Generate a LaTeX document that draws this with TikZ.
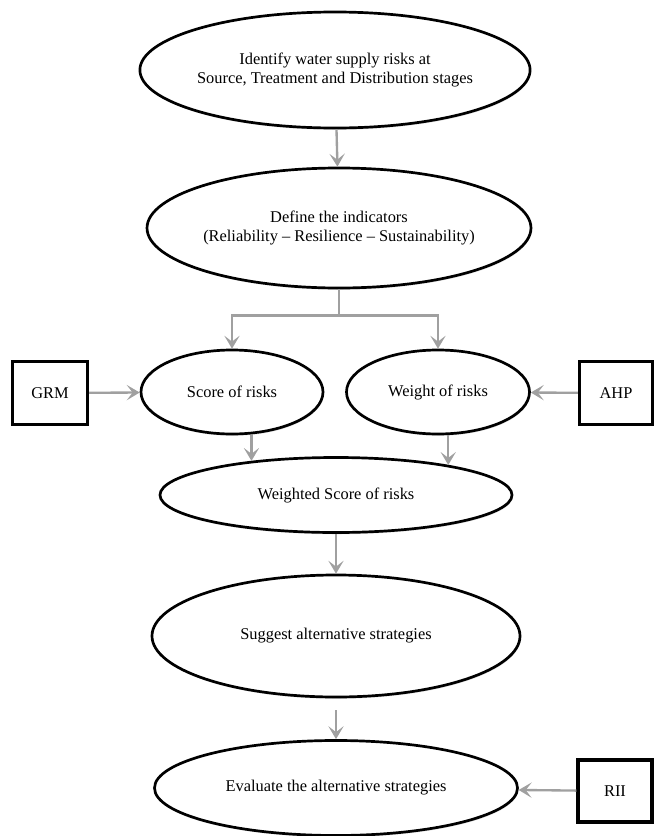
\documentclass[tikz,border=0pt]{standalone}
\usepackage{fontspec}
\setmainfont{Liberation Serif}
\usepackage{xcolor}
\usepackage{tikz}
\usetikzlibrary{shapes.geometric,arrows.meta,shadows}

\definecolor{arrowgray}{RGB}{160,160,160}

\begin{document}
\begin{tikzpicture}[x=0.03cm, y=-0.03cm,
        every node/.style={font=\fontsize{14}{17}\selectfont, align=center},
        oval/.style={ellipse, draw=black, line width=2.3pt, fill=white, inner sep=0pt,
            drop shadow={opacity=0.25, shadow xshift=0.6pt, shadow yshift=-1.5pt}},
        tool/.style={rectangle, draw=black, line width=2.7pt, fill=white, inner sep=0pt},
        flow/.style={draw=arrowgray, line width=2pt, -{Stealth[length=11pt, width=13pt, inset=5pt]}}]
            \useasboundingbox (0,0) rectangle (655,836);

            % Main chain
            \node[oval, minimum width=10.92cm, minimum height=3.48cm] (identify) at (335,70)
                {Identify water supply risks at\\Source, Treatment and Distribution stages};
            \node[oval, minimum width=10.86cm, minimum height=3.6cm] (define) at (339,228)
                {Define the indicators\\(Reliability -- Resilience -- Sustainability)};
            \node[oval, minimum width=5.46cm, minimum height=2.52cm] (score) at (232,392) {Score of risks};
            \node[oval, minimum width=5.49cm, minimum height=2.52cm] (weight) at (438,392) {Weight of risks};
            \node[oval, minimum width=10.56cm, minimum height=2.25cm] (weighted) at (336,495) {Weighted Score of risks};
            \node[oval, minimum width=11.04cm, minimum height=3.66cm] (suggest) at (336,636) {Suggest alternative strategies};
            \node[oval, minimum width=10.89cm, minimum height=2.85cm] (evaluate) at (336,788) {Evaluate the alternative strategies};

            % Methods
            \node[tool, minimum width=2.25cm, minimum height=1.89cm] (grm) at (50,393) {GRM};
            \node[tool, minimum width=2.19cm, minimum height=1.89cm] (ahp) at (616,393) {AHP};
            \node[tool, minimum width=2.22cm, minimum height=1.86cm] (rii) at (615,791) {RII};

            % Arrows
            \draw[flow] (identify) -- (define);
            \draw[draw=arrowgray, line width=2pt] (define.south) -- ++(0,26) coordinate (split);
            \draw[flow] (split) -| (score.north);
            \draw[flow] (split) -| (weight.north);
            \draw[flow] (grm) -- (score);
            \draw[flow] (ahp) -- (weight);
            \draw[flow] (score.south -| weighted.158) -- (weighted.158);
            \draw[flow] (weight.south -| weighted.15) -- (weighted.15);
            \draw[flow] (weighted) -- (suggest);
            \draw[flow, shorten <=10pt] (suggest) -- (evaluate);
            \draw[flow] (rii) -- (evaluate);

        \end{tikzpicture}
\end{document}
